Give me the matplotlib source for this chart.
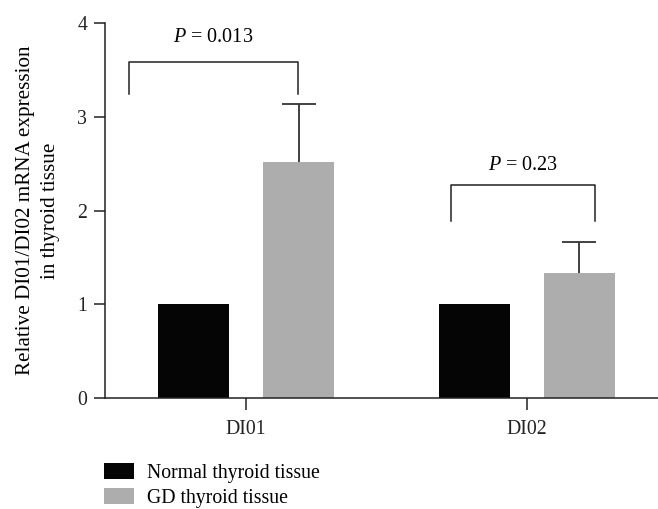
import matplotlib
matplotlib.use("Agg")
import matplotlib.pyplot as plt
from matplotlib.patches import Patch
import numpy as np

categories = ["DI01", "DI02"]
normal = [1.0, 1.0]
gd = [2.515, 1.334]
gd_err = [0.625, 0.33]
p_labels = ["0.013", "0.23"]
legend_labels = ["Normal thyroid tissue", "GD thyroid tissue"]

plt.rcParams['font.family'] = ['Liberation Serif', 'DejaVu Serif']
plt.rcParams['mathtext.fontset'] = 'custom'
plt.rcParams['mathtext.it'] = 'Liberation Serif:italic'
plt.rcParams['mathtext.rm'] = 'Liberation Serif'

black = '#050505'
gray = '#adadae'
fs = 14.2

fig = plt.figure(figsize=(6.58, 5.09), dpi=100)
ax = fig.add_axes([105/658, 1-398/509, 1 - 105/658 + 0.01, (398-23.3)/509])

x = np.arange(len(categories))
w = 0.253
off = 0.187
ax.bar(x - off, normal, width=w, color=black, zorder=2)
ax.bar(x + off, gd, width=w, color=gray, zorder=2)
ax.errorbar(x + off, gd, yerr=gd_err, fmt='none',
            ecolor='#333333', elinewidth=1.3, capsize=12.2, capthick=1.3, zorder=1)

ax.set_ylim(0, 4)
ax.set_xlim(-0.502, 1.49)
ax.set_yticks([0, 1, 2, 3, 4])
ax.set_xticks(x)
ax.set_xticklabels(categories)
ax.tick_params(axis='both', labelsize=fs, length=8, width=1.1, direction='out', colors='#222222')
ax.tick_params(axis='x', pad=7, length=8.6)
ax.tick_params(axis='y', pad=5)
for s in ['top', 'right']:
    ax.spines[s].set_visible(False)
for s in ['left', 'bottom']:
    ax.spines[s].set_linewidth(1.1)
    ax.spines[s].set_color('#222222')

ax.set_ylabel("Relative DI01/DI02 mRNA expression\nin thyroid tissue", fontsize=15.2,
              linespacing=1.4, labelpad=12.5)

# significance brackets
brackets = [(-0.416, 0.185, 3.24, 3.59, 3.85), (0.728, 1.242, 1.89, 2.27, 2.48)]
for (xl, xr, yb, yt, ytxt), p in zip(brackets, p_labels):
    ax.plot([xl, xl, xr, xr], [yb, yt, yt, yb], color='#222222', lw=1.1, clip_on=False)
    ax.text((xl + xr) / 2, ytxt, r"$P$ = " + p, ha='center', va='center', fontsize=fs + 0.3)

handles = [Patch(facecolor=black, edgecolor='none'), Patch(facecolor=gray, edgecolor='none')]
fig.legend(handles, legend_labels, loc='upper left', bbox_to_anchor=(100/658, 1 - 459/509),
           frameon=False, fontsize=fs, handlelength=1.5, handleheight=0.9,
           handletextpad=0.7, labelspacing=0.25, borderaxespad=0, borderpad=0.2)

fig.savefig("out.png", dpi=100)
